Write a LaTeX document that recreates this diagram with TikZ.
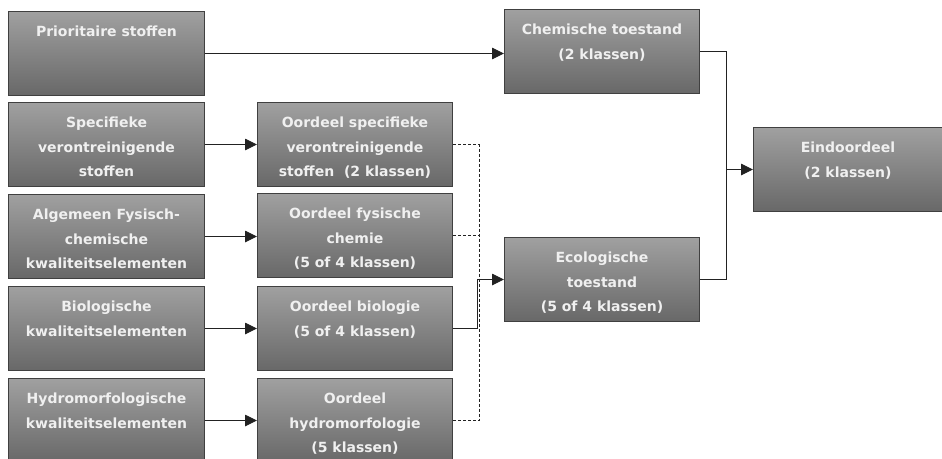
\documentclass[tikz,border=0pt]{standalone}
\usepackage{fontspec}
\setmainfont{DejaVu Sans}
\usetikzlibrary{arrows.meta,calc}
\definecolor{boxtop}{HTML}{A0A0A0}
\definecolor{boxbot}{HTML}{686868}
\definecolor{boxline}{HTML}{404040}
\definecolor{txtcol}{HTML}{F0F0F0}
\definecolor{linecol}{HTML}{222222}
\tikzset{
  box/.style={draw=boxline, line width=1pt, top color=boxtop, bottom color=boxbot,
    minimum width=#1, minimum height=84pt, anchor=north west, inner sep=0pt},
  box/.default=196pt,
  txt/.style={anchor=north, align=center, text=txtcol, font=\bfseries\fontsize{14}{24.3}\selectfont, inner sep=0pt},
  conn/.style={draw=linecol, line width=0.9pt},
  arr/.style={conn, -{Triangle[length=12pt,width=11.5pt]}},
  dconn/.style={conn, dash pattern=on 3pt off 2pt}
}
\begin{document}
\begin{tikzpicture}[x=1pt,y=-1pt]
\clip (0,0) rectangle (942,458);
\fill[white] (0,0) rectangle (942,458);
% left column
\node[box] (P) at (8,11) {};
\node[txt] (Pt) at ([yshift=-15pt]P.north) {Prioritaire stoffen};
\node[box] (S) at (8,102) {};
\node[txt] (St) at ([yshift=-15pt]S.north) {Specifieke\\verontreinigende\\stoffen};
\node[box] (A) at (8,194) {};
\node[txt] (At) at ([yshift=-15pt]A.north) {Algemeen Fysisch-\\chemische\\kwaliteitselementen};
\node[box] (B) at (8,286) {};
\node[txt] (Bt) at ([yshift=-15pt]B.north) {Biologische\\kwaliteitselementen};
\node[box] (H) at (8,378) {};
\node[txt] (Ht) at ([yshift=-15pt]H.north) {Hydromorfologische\\kwaliteitselementen};
% middle column
\node[box=195pt] (OS) at (257,102) {};
\node[txt] (OSt) at ([yshift=-15pt]OS.north) {Oordeel specifieke\\verontreinigende\\stoffen\ \ (2 klassen)};
\node[box=195pt] (OF) at (257,193) {};
\node[txt] (OFt) at ([yshift=-15pt]OF.north) {Oordeel fysische\\chemie\\(5 of 4 klassen)};
\node[box=195pt] (OB) at (257,286) {};
\node[txt] (OBt) at ([yshift=-15pt]OB.north) {Oordeel biologie\\(5 of 4 klassen)};
\node[box=195pt] (OH) at (257,378) {};
\node[txt] (OHt) at ([yshift=-15pt]OH.north) {Oordeel\\hydromorfologie\\(5 klassen)};
% right
\node[box=195pt] (C) at (504,9) {};
\node[txt] (Ct) at ([yshift=-15pt]C.north) {Chemische toestand\\(2 klassen)};
\node[box=195pt] (E) at (504,237) {};
\node[txt] (Et) at ([yshift=-15pt]E.north) {Ecologische\\toestand\\(5 of 4 klassen)};
\node[box=189pt] (D) at (753,127) {};
\node[txt] (Dt) at ([yshift=-15pt]D.north) {Eindoordeel\\(2 klassen)};
% coordinates
\coordinate (busx) at (479,0);
\coordinate (busx2) at (477,0);
\coordinate (rbus) at (726,0);
% connectors
\draw[arr] (P.east) -- (P.east -| C.west);
\draw[arr] (S.east) -- (OS.west);
\draw[arr] (A.east) -- (A.east -| OF.west);
\draw[arr] (B.east) -- (OB.west);
\draw[arr] (H.east) -- (OH.west);
\draw[dconn] (OS.east) -- (OS.east -| busx) -- (OH.east -| busx) -- (OH.east);
\draw[dconn] (OF.east) -- (OF.east -| busx);
\draw[conn] (OB.east) -- (OB.east -| busx2) -- (E.west -| busx2);
\draw[arr] (E.west -| busx2) -- (E.west);
\draw[conn] (C.east) -- (C.east -| rbus) -- (E.east -| rbus) -- (E.east);
\draw[arr] (D.west -| rbus) -- (D.west);
\end{tikzpicture}
\end{document}
